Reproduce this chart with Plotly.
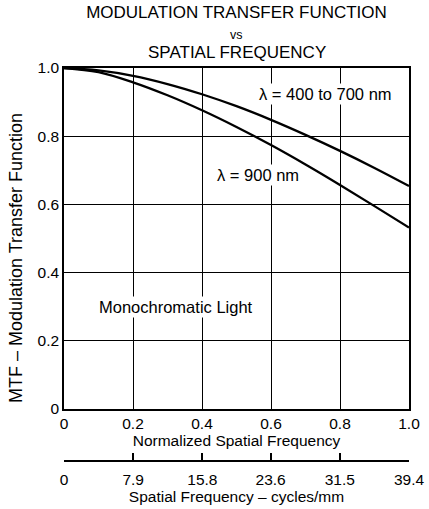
import plotly.graph_objects as go

freq_norm = [0, 0.1, 0.2, 0.3, 0.4, 0.5, 0.6, 0.7, 0.8, 0.9, 1.0]
mtf_visible = [1.0, 0.993, 0.977, 0.953, 0.923, 0.888, 0.848, 0.804, 0.757, 0.707, 0.654]
mtf_900 = [1.0, 0.988, 0.958, 0.920, 0.876, 0.827, 0.774, 0.717, 0.657, 0.595, 0.532]
x_ticks = [0, 0.2, 0.4, 0.6, 0.8, 1.0]
x_ticklabels = ["0", "0.2", "0.4", "0.6", "0.8", "1.0"]
y_ticks = [0, 0.2, 0.4, 0.6, 0.8, 1.0]
y_ticklabels = ["0", "0.2", "0.4", "0.6", "0.8", "1.0"]
cycles_mm = [0, 7.9, 15.8, 23.6, 31.5, 39.4]
cycles_labels = ["0", "7.9", "15.8", "23.6", "31.5", "39.4"]

FONT = "Liberation Sans, Arial, sans-serif"

fig = go.Figure()
fig.add_trace(go.Scatter(x=freq_norm, y=mtf_visible, mode="lines",
                         line=dict(color="black", width=2.3, shape="spline", smoothing=1),
                         name="λ = 400 to 700 nm", hoverinfo="x+y"))
fig.add_trace(go.Scatter(x=freq_norm, y=mtf_900, mode="lines",
                         line=dict(color="black", width=2.3, shape="spline", smoothing=1),
                         name="λ = 900 nm", hoverinfo="x+y"))
# invisible trace to bind the secondary (cycles/mm) axis
fig.add_trace(go.Scatter(x=cycles_mm, y=[None] * len(cycles_mm), xaxis="x2", yaxis="y",
                         mode="markers", marker=dict(opacity=0), showlegend=False,
                         hoverinfo="skip"))

W, H, T, B, L, R = 429, 509, 68, 48, 64, 20
paper_h = H - T - B
paper_w = W - L - R
ydom0 = 52 / paper_h


def py(px):
    """pixel row -> paper y"""
    return (H - B - px) / paper_h


def px_(x):
    """pixel column -> paper x"""
    return (x - L) / paper_w


fig.update_layout(
    template="none",
    width=W, height=H,
    margin=dict(l=L, r=R, t=T, b=B, pad=0, autoexpand=False),
    paper_bgcolor="white", plot_bgcolor="white",
    showlegend=False,
    font=dict(family=FONT, color="black", size=15.5),
    title=dict(
        text="MODULATION TRANSFER FUNCTION",
        x=0.5, xref="paper", xanchor="center", y=1 - 12 / H, yanchor="middle",
        font=dict(family=FONT, size=17, color="black"),
    ),
    xaxis=dict(
        range=[0, 1], tickvals=x_ticks, ticktext=x_ticklabels,
        showgrid=True, gridcolor="black", gridwidth=1,
        showline=True, linecolor="black", linewidth=1.5, mirror=True,
        ticks="", zeroline=False, anchor="y", automargin=False,
        tickfont=dict(size=15.5),
        title=dict(text="Normalized Spatial Frequency", standoff=0, font=dict(size=15.5)),
    ),
    xaxis2=dict(
        range=[0, 39.4], tickvals=cycles_mm, ticktext=cycles_labels,
        overlaying="x", anchor="free", position=0, side="bottom",
        showgrid=False, zeroline=False, automargin=False,
        showline=True, linecolor="black", linewidth=1.5,
        ticks="inside", ticklen=7, tickwidth=1.5, tickcolor="black",
        tickfont=dict(size=15.5), ticklabelstandoff=5,
        title=dict(text="Spatial Frequency – cycles/mm", standoff=1, font=dict(size=15.5)),
    ),
    yaxis=dict(
        range=[0, 1], domain=[ydom0, 1], tickvals=y_ticks, ticktext=y_ticklabels,
        showgrid=True, gridcolor="black", gridwidth=1,
        showline=True, linecolor="black", linewidth=1.5, mirror=True,
        ticks="", zeroline=False, automargin=False,
        tickfont=dict(size=15.5),
    ),
    annotations=[
        dict(x=0.5, y=py(35), xref="paper", yref="paper", text="vs",
             xanchor="center", yanchor="middle",
             showarrow=False, font=dict(size=12.5)),
        dict(x=0.5, y=py(52), xref="paper", yref="paper", text="SPATIAL FREQUENCY",
             xanchor="center", yanchor="middle",
             showarrow=False, font=dict(size=17)),
        dict(x=px_(16), y=py(258), xref="paper", yref="paper",
             text="MTF – Modulation Transfer Function", textangle=-90,
             xanchor="center", yanchor="middle",
             showarrow=False, font=dict(size=18)),
        dict(x=0.757, y=0.924, xref="x", yref="y", text="λ = 400 to 700 nm",
             xanchor="center", yanchor="middle",
             showarrow=False, font=dict(size=16.5), bgcolor="white"),
        dict(x=0.562, y=0.686, xref="x", yref="y", text="λ = 900 nm",
             xanchor="center", yanchor="middle",
             showarrow=False, font=dict(size=16.5), bgcolor="white"),
        dict(x=0.096, y=0.299, xref="x", yref="y", text="Monochromatic Light",
             xanchor="left", yanchor="middle",
             showarrow=False, font=dict(size=16.5), bgcolor="white"),
    ],
)

fig.write_html("out.html", config={"displayModeBar": False},
               post_script="document.body.style.margin='0';")
